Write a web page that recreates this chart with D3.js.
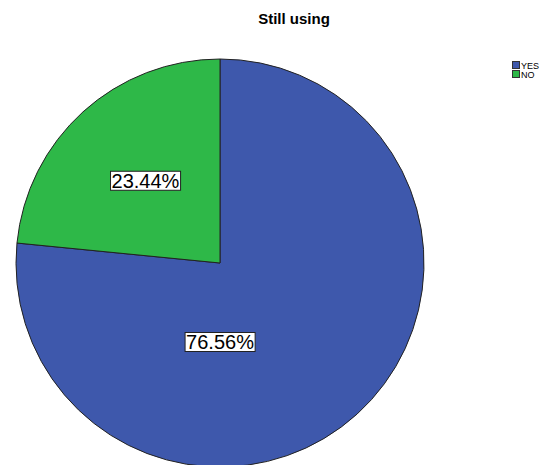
<!DOCTYPE html>
<html>
<head>
<meta charset="utf-8">
<script src="https://cdn.jsdelivr.net/npm/d3@7"></script>
<style>
  html, body { margin: 0; padding: 0; background: #fff; }
  svg { display: block; }
</style>
</head>
<body>
<svg id="chart" width="547" height="465"></svg>
<script>
// Answers to "Still using"
const categories = ["YES", "NO"];
const percents = [76.56, 23.44];
const colors = ["#3E58AC", "#2EB848"];

const svg = d3.select("#chart");
const cx = 220, cy = 263, radius = 204;

svg.append("text")
  .attr("x", 294).attr("y", 24)
  .attr("text-anchor", "middle")
  .style("font-family", "Liberation Sans, Arial, sans-serif")
  .style("font-weight", "bold")
  .style("font-size", "15px")
  .text("Still using");

const data = categories.map((c, i) => ({ cat: c, value: percents[i], color: colors[i] }));

const pie = d3.pie().value(d => d.value).sort(null);
const arc = d3.arc().innerRadius(0).outerRadius(radius);
const arcs = pie(data);

const g = svg.append("g").attr("transform", `translate(${cx},${cy})`);

g.selectAll("path.slice")
  .data(arcs)
  .join("path")
  .attr("class", "slice")
  .attr("d", arc)
  .attr("fill", d => d.data.color)
  .attr("stroke", "#222")
  .attr("stroke-width", 1)
  .attr("stroke-linejoin", "round");

// Label anchors: the small slice is labelled along its bisector,
// the large one sits below the centre.
const labelArc = d3.arc().innerRadius(111).outerRadius(111);
function labelPos(d) {
  if (d.data.cat === "NO") return labelArc.centroid(d);
  return [0, 79];
}

const labels = g.selectAll("g.lbl")
  .data(arcs)
  .join("g")
  .attr("class", "lbl")
  .attr("transform", d => { const p = labelPos(d); return `translate(${p[0]},${p[1]})`; });

labels.each(function(d) {
  const sel = d3.select(this);
  const txt = sel.append("text")
    .attr("text-anchor", "middle")
    .attr("dy", "0.36em")
    .style("font-family", "Liberation Sans, Arial, sans-serif")
    .style("font-size", "20px")
    .attr("fill", "#000")
    .text(d3.format(".2f")(d.data.value) + "%");
  const bb = txt.node().getBBox();
  sel.insert("rect", "text")
    .attr("x", bb.x - 1)
    .attr("y", -9.5)
    .attr("width", bb.width + 2)
    .attr("height", 19)
    .attr("fill", "#fff")
    .attr("stroke", "#222")
    .attr("stroke-width", 1);
});

// Legend
const legend = svg.append("g").attr("transform", "translate(512,61)");
const items = legend.selectAll("g")
  .data(data)
  .join("g")
  .attr("transform", (d, i) => `translate(0,${i * 9})`);
items.append("rect")
  .attr("x", 0.5).attr("y", 0.5)
  .attr("width", 7).attr("height", 7)
  .attr("fill", d => d.color)
  .attr("stroke", "#333")
  .attr("stroke-width", 1);
items.append("text")
  .attr("x", 9).attr("y", 7.5)
  .style("font-family", "Liberation Sans, Arial, sans-serif")
  .style("font-size", "9px")
  .text(d => d.cat);
</script>
</body>
</html>
